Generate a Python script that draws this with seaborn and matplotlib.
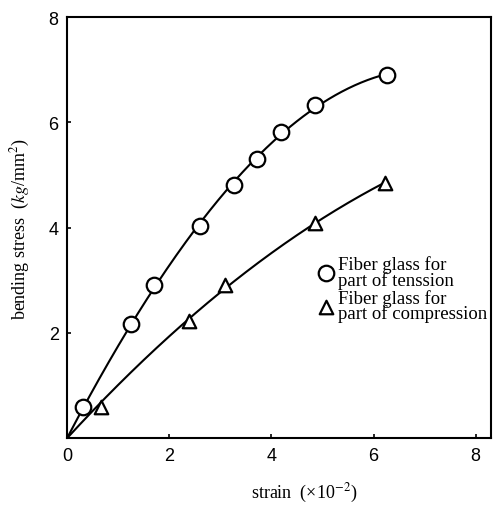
""" bending stress vs strain """

import matplotlib.pyplot as plt
import numpy as np
import pandas as pd
import seaborn as sns

tension_strain = [0.31, 1.25, 1.70, 2.60, 3.27, 3.71, 4.18, 4.85, 6.26]
tension_stress = [0.60, 2.17, 2.91, 4.04, 4.81, 5.30, 5.81, 6.33, 6.90]
compress_strain = [0.67, 2.38, 3.10, 4.85, 6.23]
compress_stress = [0.60, 2.23, 2.91, 4.09, 4.85]

tension_label = "Fiber glass for\npart of tenssion"
compress_label = "Fiber glass for\npart of compression"
x_ticks = [0, 2, 4, 6, 8]
y_ticks = [2, 4, 6, 8]


def smooth_curve(xs, ys, deg):
    """ fitted curve through the origin and the points """
    x_all = np.r_[0.0, xs]
    y_all = np.r_[0.0, ys]
    coef = np.polyfit(x_all, y_all, deg, w=np.r_[20.0, np.ones(len(xs))])
    x_line = np.linspace(0, max(xs), 200)
    return pd.DataFrame({"x": x_line, "y": np.polyval(coef, x_line)})


sns.set_style("ticks", {"xtick.direction": "in", "ytick.direction": "in"})
plt.rcParams["font.family"] = ["Liberation Serif", "DejaVu Serif"]
plt.rcParams["mathtext.fontset"] = "stix"
plt.rcParams["text.color"] = "black"
plt.rcParams["axes.labelcolor"] = "black"

fig = plt.figure(figsize=(4.93, 5.06), dpi=100)
ax = fig.add_axes([0.136, 0.132, 0.860, 0.832])

t_line = smooth_curve(tension_strain, tension_stress, 3)
c_line = smooth_curve(compress_strain, compress_stress, 2)
sns.lineplot(data=t_line, x="x", y="y", color="black", lw=1.5, ax=ax, zorder=2)
sns.lineplot(data=c_line, x="x", y="y", color="black", lw=1.5, ax=ax, zorder=2)

t_df = pd.DataFrame({"x": tension_strain, "y": tension_stress})
c_df = pd.DataFrame({"x": compress_strain, "y": compress_stress})
sns.scatterplot(data=t_df, x="x", y="y", marker="o", s=125, facecolor="white",
                edgecolor="black", linewidth=1.6, ax=ax, zorder=3,
                label=tension_label)
sns.scatterplot(data=c_df, x="x", y="y", marker="^", s=95, facecolor="white",
                edgecolor="black", linewidth=1.6, ax=ax, zorder=3,
                label=compress_label)

ax.set_xlim(0, 8.3)
ax.set_ylim(0, 8)
ax.set_xticks(x_ticks)
ax.set_yticks(y_ticks)
ax.tick_params(length=3, width=1.2, labelsize=13, pad=6, colors="black")
for tick in ax.get_xticklabels() + ax.get_yticklabels():
    tick.set_fontfamily(["Liberation Sans", "DejaVu Sans"])
for side in ax.spines.values():
    side.set_linewidth(1.5)
    side.set_color("black")

ax.set_xlabel("strain  (×10$^{-2}$)", fontsize=13)
ax.xaxis.label.set_va("center")
ax.xaxis.set_label_coords(0.56, -0.13)
ax.set_ylabel("bending stress  ($kg$/mm$^2$)", fontsize=13, labelpad=12)

leg = ax.legend(loc="upper left", bbox_to_anchor=(0.585, 0.435), frameon=False,
                fontsize=13.5, handletextpad=0.0, labelspacing=0.0,
                borderpad=0, borderaxespad=0, handlelength=1.2)
for text in leg.get_texts():
    text.set_linespacing(0.85)

fig.savefig("out.png", dpi=100)
